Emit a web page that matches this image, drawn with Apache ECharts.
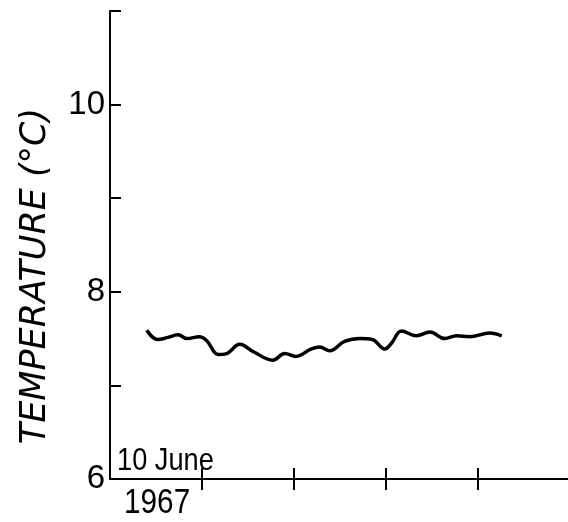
<!DOCTYPE html>
<html>
<head>
<meta charset="utf-8">
<script src="https://cdn.jsdelivr.net/npm/echarts@6/dist/echarts.min.js"></script>
<style>html,body{margin:0;padding:0;background:#fff}#c{width:568px;height:522px}</style>
</head>
<body>
<div id="c"></div>
<script>
// Days after 10 June 1967 (axis origin) and temperature (°C)
const dayOffsets = [0.40,0.52,0.62,0.74,0.84,0.97,1.05,1.18,1.27,1.41,1.56,1.77,1.90,2.02,2.19,2.28,2.39,2.55,2.72,2.85,2.99,3.06,3.17,3.33,3.48,3.64,3.77,3.91,4.13,4.26];
const temps =      [7.59,7.49,7.51,7.54,7.50,7.52,7.48,7.33,7.34,7.44,7.36,7.27,7.34,7.31,7.39,7.41,7.37,7.47,7.50,7.49,7.39,7.45,7.58,7.53,7.57,7.50,7.53,7.52,7.56,7.53];
const yTickLabels = {6:'6', 8:'8', 10:'10'};
const xTickValues = [1,2,3,4];
const yAxisTitle = 'TEMPERATURE (°C)';
const dateLine1 = '10 June';
const dateLine2 = '1967';

const seriesData = dayOffsets.map((d,i)=>[d,temps[i]]);
const chart = echarts.init(document.getElementById('c'), null, {renderer:'canvas'});
const FONT = '"Liberation Sans", Arial, sans-serif';
chart.setOption({
  animation:false,
  backgroundColor:'#fff',
  grid:{left:110, top:11, right:0, bottom:43, containLabel:false},
  xAxis:[{
    type:'value', min:0, max:4.98, interval:1,
    axisLine:{show:true, lineStyle:{color:'#000', width:2}},
    axisTick:{show:true, inside:true, length:11, customValues:xTickValues, lineStyle:{color:'#000', width:2}},
    axisLabel:{show:false},
    splitLine:{show:false}
  },{
    type:'value', min:0, max:4.98, interval:1, position:'bottom',
    axisLine:{show:false},
    axisTick:{show:true, inside:false, length:11, customValues:xTickValues, lineStyle:{color:'#000', width:2}},
    axisLabel:{show:false},
    splitLine:{show:false}
  }],
  yAxis:{
    type:'value', min:6, max:11, interval:1,
    axisLine:{show:true, lineStyle:{color:'#000', width:2}},
    axisTick:{show:true, inside:true, length:11, lineStyle:{color:'#000', width:2}},
    axisLabel:{show:true, margin:5, color:'#000', fontSize:33, fontFamily:FONT,
      formatter:v=>yTickLabels[v]||''},
    splitLine:{show:false}
  },
  graphic:[
    {type:'text', x:36, y:276, rotation:Math.PI/2,
      style:{text:yAxisTitle, fill:'#000', font:'italic 35px "DejaVu Sans", sans-serif', textAlign:'center', textVerticalAlign:'middle'}},
    {type:'text', x:117, y:461, scaleX:0.85,
      style:{text:dateLine1, fill:'#000', font:'32px "Liberation Sans", Arial, sans-serif', textAlign:'left', textVerticalAlign:'middle'}},
    {type:'text', x:124, y:503, scaleX:0.85,
      style:{text:dateLine2, fill:'#000', font:'35px "Liberation Sans", Arial, sans-serif', textAlign:'left', textVerticalAlign:'middle'}}
  ],
  series:[{
    type:'line', xAxisIndex:0, data:seriesData, smooth:0.4, showSymbol:false,
    lineStyle:{color:'#000', width:3.5}
  }]
});
</script>
</body>
</html>
